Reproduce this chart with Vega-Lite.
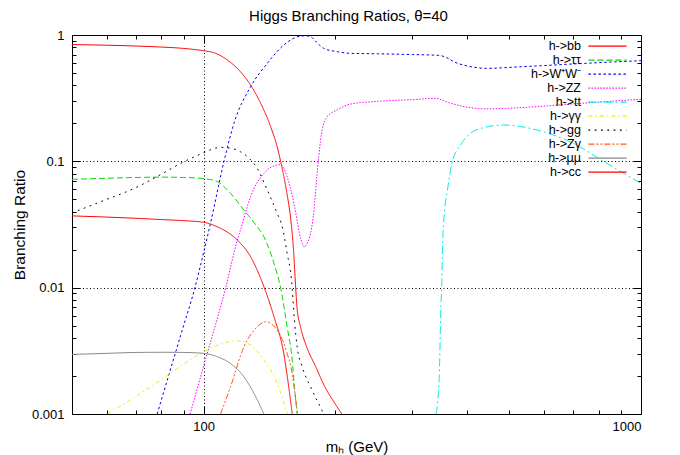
{
  "$schema": "https://vega.github.io/schema/vega-lite/v6.json",
  "width": 569,
  "height": 379,
  "autosize": {"type": "none"},
  "padding": {"left": 72, "top": 35, "right": 39, "bottom": 41},
  "background": "white",
  "title": {"text": "Higgs Branching Ratios, θ=40", "fontSize": 15, "font": "Liberation Sans", "fontWeight": "normal", "anchor": "middle", "dx": -8, "offset": 5, "color": "black"},
  "config": {
    "view": {"stroke": "black", "strokeWidth": 1},
    "font": "Liberation Sans",
    "axis": {"labelFont": "Liberation Sans", "titleFont": "Liberation Sans", "labelColor": "black", "titleColor": "black", "tickColor": "black", "domain": false, "titleFontWeight": "normal"},
    "legend": {"orient": "none", "legendX": 528.5, "legendY": 4.2, "title": null, "symbolType": "M-3.15,0H3.15", "symbolSize": 147, "symbolStrokeWidth": 1.2, "labelAlign": "right", "labelOffset": -33.5, "labelFontSize": 12.5, "labelFont": "Liberation Sans", "labelColor": "black", "padding": 0, "labelLimit": 0}
  },
  "data": {"values": [
    {"d": "h->bb", "m": 50, "br": 0.84}, {"d": "h->bb", "m": 60, "br": 0.83}, {"d": "h->bb", "m": 70, "br": 0.818}, {"d": "h->bb", "m": 80, "br": 0.803}, {"d": "h->bb", "m": 90, "br": 0.783}, {"d": "h->bb", "m": 100, "br": 0.75}, {"d": "h->bb", "m": 105.6, "br": 0.724}, {"d": "h->bb", "m": 113.3, "br": 0.634}, {"d": "h->bb", "m": 121.4, "br": 0.512}, {"d": "h->bb", "m": 128, "br": 0.402}, {"d": "h->bb", "m": 135, "br": 0.288}, {"d": "h->bb", "m": 142.3, "br": 0.188}, {"d": "h->bb", "m": 147.3, "br": 0.13}, {"d": "h->bb", "m": 150, "br": 0.0996}, {"d": "h->bb", "m": 155, "br": 0.056}, {"d": "h->bb", "m": 158, "br": 0.036}, {"d": "h->bb", "m": 160.5, "br": 0.02}, {"d": "h->bb", "m": 162.2, "br": 0.0105}, {"d": "h->bb", "m": 163.6, "br": 0.0068}, {"d": "h->bb", "m": 166.5, "br": 0.0049}, {"d": "h->bb", "m": 172, "br": 0.0034}, {"d": "h->bb", "m": 180.4, "br": 0.00237}, {"d": "h->bb", "m": 189.3, "br": 0.00164}, {"d": "h->bb", "m": 197, "br": 0.0013}, {"d": "h->bb", "m": 207, "br": 0.001},
    {"d": "h->ττ", "m": 50, "br": 0.072}, {"d": "h->ττ", "m": 60, "br": 0.0735}, {"d": "h->ττ", "m": 70, "br": 0.0745}, {"d": "h->ττ", "m": 80, "br": 0.075}, {"d": "h->ττ", "m": 90, "br": 0.0745}, {"d": "h->ττ", "m": 100, "br": 0.073}, {"d": "h->ττ", "m": 107.5, "br": 0.069}, {"d": "h->ττ", "m": 115.2, "br": 0.0558}, {"d": "h->ττ", "m": 123.6, "br": 0.0411}, {"d": "h->ττ", "m": 132, "br": 0.031}, {"d": "h->ττ", "m": 137.3, "br": 0.0253}, {"d": "h->ττ", "m": 144.8, "br": 0.0156}, {"d": "h->ττ", "m": 150, "br": 0.0099}, {"d": "h->ττ", "m": 155.2, "br": 0.0049}, {"d": "h->ττ", "m": 159.4, "br": 0.00267}, {"d": "h->ττ", "m": 161.3, "br": 0.00164}, {"d": "h->ττ", "m": 163.6, "br": 0.001},
    {"d": "h->W⁺W⁻", "m": 78.3, "br": 0.001}, {"d": "h->W⁺W⁻", "m": 88.6, "br": 0.0042}, {"d": "h->W⁺W⁻", "m": 95.5, "br": 0.01}, {"d": "h->W⁺W⁻", "m": 100, "br": 0.019}, {"d": "h->W⁺W⁻", "m": 103.8, "br": 0.033}, {"d": "h->W⁺W⁻", "m": 111.3, "br": 0.1}, {"d": "h->W⁺W⁻", "m": 117.3, "br": 0.2}, {"d": "h->W⁺W⁻", "m": 128, "br": 0.389}, {"d": "h->W⁺W⁻", "m": 139.8, "br": 0.597}, {"d": "h->W⁺W⁻", "m": 152.5, "br": 0.834}, {"d": "h->W⁺W⁻", "m": 158, "br": 0.913}, {"d": "h->W⁺W⁻", "m": 166.5, "br": 0.98}, {"d": "h->W⁺W⁻", "m": 171, "br": 0.985}, {"d": "h->W⁺W⁻", "m": 175.6, "br": 0.97}, {"d": "h->W⁺W⁻", "m": 181, "br": 0.88}, {"d": "h->W⁺W⁻", "m": 188, "br": 0.785}, {"d": "h->W⁺W⁻", "m": 201.9, "br": 0.738}, {"d": "h->W⁺W⁻", "m": 216.7, "br": 0.716}, {"d": "h->W⁺W⁻", "m": 250, "br": 0.71}, {"d": "h->W⁺W⁻", "m": 300, "br": 0.70}, {"d": "h->W⁺W⁻", "m": 345, "br": 0.69}, {"d": "h->W⁺W⁻", "m": 360, "br": 0.66}, {"d": "h->W⁺W⁻", "m": 373, "br": 0.615}, {"d": "h->W⁺W⁻", "m": 400, "br": 0.57}, {"d": "h->W⁺W⁻", "m": 443.6, "br": 0.545}, {"d": "h->W⁺W⁻", "m": 529, "br": 0.56}, {"d": "h->W⁺W⁻", "m": 700, "br": 0.59}, {"d": "h->W⁺W⁻", "m": 850, "br": 0.61}, {"d": "h->W⁺W⁻", "m": 1000, "br": 0.626},
    {"d": "h->ZZ", "m": 93.1, "br": 0.001}, {"d": "h->ZZ", "m": 100, "br": 0.0024}, {"d": "h->ZZ", "m": 112.3, "br": 0.01}, {"d": "h->ZZ", "m": 119.4, "br": 0.0238}, {"d": "h->ZZ", "m": 121.4, "br": 0.0286}, {"d": "h->ZZ", "m": 128, "br": 0.0525}, {"d": "h->ZZ", "m": 137.3, "br": 0.0803}, {"d": "h->ZZ", "m": 147.3, "br": 0.0935}, {"d": "h->ZZ", "m": 150, "br": 0.094}, {"d": "h->ZZ", "m": 155.2, "br": 0.0755}, {"d": "h->ZZ", "m": 160.8, "br": 0.0465}, {"d": "h->ZZ", "m": 163.6, "br": 0.034}, {"d": "h->ZZ", "m": 165.5, "br": 0.027}, {"d": "h->ZZ", "m": 168, "br": 0.0225}, {"d": "h->ZZ", "m": 170, "br": 0.021}, {"d": "h->ZZ", "m": 172.5, "br": 0.0225}, {"d": "h->ZZ", "m": 175.6, "br": 0.027}, {"d": "h->ZZ", "m": 178, "br": 0.036}, {"d": "h->ZZ", "m": 181.2, "br": 0.071}, {"d": "h->ZZ", "m": 183.3, "br": 0.109}, {"d": "h->ZZ", "m": 186.6, "br": 0.177}, {"d": "h->ZZ", "m": 191.6, "br": 0.225}, {"d": "h->ZZ", "m": 201.9, "br": 0.255}, {"d": "h->ZZ", "m": 216.7, "br": 0.284}, {"d": "h->ZZ", "m": 245, "br": 0.297}, {"d": "h->ZZ", "m": 300, "br": 0.308}, {"d": "h->ZZ", "m": 341.4, "br": 0.315}, {"d": "h->ZZ", "m": 355, "br": 0.30}, {"d": "h->ZZ", "m": 373, "br": 0.284}, {"d": "h->ZZ", "m": 443.6, "br": 0.26}, {"d": "h->ZZ", "m": 548, "br": 0.268}, {"d": "h->ZZ", "m": 700, "br": 0.285}, {"d": "h->ZZ", "m": 1000, "br": 0.31},
    {"d": "h->tt", "m": 340, "br": 0.001}, {"d": "h->tt", "m": 345.7, "br": 0.002}, {"d": "h->tt", "m": 348.6, "br": 0.0067}, {"d": "h->tt", "m": 350, "br": 0.01}, {"d": "h->tt", "m": 352, "br": 0.0224}, {"d": "h->tt", "m": 355.6, "br": 0.0411}, {"d": "h->tt", "m": 361, "br": 0.0593}, {"d": "h->tt", "m": 369.5, "br": 0.0964}, {"d": "h->tt", "m": 389, "br": 0.139}, {"d": "h->tt", "m": 420, "br": 0.177}, {"d": "h->tt", "m": 485, "br": 0.194}, {"d": "h->tt", "m": 578, "br": 0.177}, {"d": "h->tt", "m": 700, "br": 0.139}, {"d": "h->tt", "m": 835, "br": 0.0964}, {"d": "h->tt", "m": 1000, "br": 0.067},
    {"d": "h->γγ", "m": 60.3, "br": 0.001}, {"d": "h->γγ", "m": 75.7, "br": 0.00164}, {"d": "h->γγ", "m": 100, "br": 0.0031}, {"d": "h->γγ", "m": 110, "br": 0.0036}, {"d": "h->γγ", "m": 117.3, "br": 0.00378}, {"d": "h->γγ", "m": 120.4, "br": 0.00378}, {"d": "h->γγ", "m": 128, "br": 0.00351}, {"d": "h->γγ", "m": 137.3, "br": 0.00267}, {"d": "h->γγ", "m": 147.3, "br": 0.00175}, {"d": "h->γγ", "m": 155.2, "br": 0.001},
    {"d": "h->gg", "m": 50, "br": 0.039}, {"d": "h->gg", "m": 58.2, "br": 0.048}, {"d": "h->gg", "m": 69.3, "br": 0.061}, {"d": "h->gg", "m": 80, "br": 0.079}, {"d": "h->gg", "m": 88.6, "br": 0.0964}, {"d": "h->gg", "m": 100, "br": 0.117}, {"d": "h->gg", "m": 104, "br": 0.124}, {"d": "h->gg", "m": 109.3, "br": 0.129}, {"d": "h->gg", "m": 115.2, "br": 0.127}, {"d": "h->gg", "m": 121.4, "br": 0.119}, {"d": "h->gg", "m": 126.9, "br": 0.106}, {"d": "h->gg", "m": 132.6, "br": 0.088}, {"d": "h->gg", "m": 139.8, "br": 0.0593}, {"d": "h->gg", "m": 147.3, "br": 0.0387}, {"d": "h->gg", "m": 151.3, "br": 0.0303}, {"d": "h->gg", "m": 155.2, "br": 0.0187}, {"d": "h->gg", "m": 158.8, "br": 0.0115}, {"d": "h->gg", "m": 161.3, "br": 0.0055}, {"d": "h->gg", "m": 163.6, "br": 0.0034}, {"d": "h->gg", "m": 168, "br": 0.00237}, {"d": "h->gg", "m": 176.9, "br": 0.00155}, {"d": "h->gg", "m": 186.6, "br": 0.00106}, {"d": "h->gg", "m": 188, "br": 0.001},
    {"d": "h->Zγ", "m": 109.3, "br": 0.001}, {"d": "h->Zγ", "m": 115.2, "br": 0.00164}, {"d": "h->Zγ", "m": 123.6, "br": 0.0034}, {"d": "h->Zγ", "m": 132.6, "br": 0.0049}, {"d": "h->Zγ", "m": 138.5, "br": 0.00537}, {"d": "h->Zγ", "m": 147.3, "br": 0.00462}, {"d": "h->Zγ", "m": 155.2, "br": 0.00302}, {"d": "h->Zγ", "m": 159.4, "br": 0.00209}, {"d": "h->Zγ", "m": 162.2, "br": 0.00134}, {"d": "h->Zγ", "m": 164, "br": 0.001},
    {"d": "h->μμ", "m": 50, "br": 0.00296}, {"d": "h->μμ", "m": 60, "br": 0.00302}, {"d": "h->μμ", "m": 70, "br": 0.00307}, {"d": "h->μμ", "m": 80, "br": 0.00308}, {"d": "h->μμ", "m": 90, "br": 0.00307}, {"d": "h->μμ", "m": 100, "br": 0.00302}, {"d": "h->μμ", "m": 107.5, "br": 0.00284}, {"d": "h->μμ", "m": 115.2, "br": 0.00251}, {"d": "h->μμ", "m": 123.6, "br": 0.00197}, {"d": "h->μμ", "m": 130.3, "br": 0.00146}, {"d": "h->μμ", "m": 137.3, "br": 0.001},
    {"d": "h->cc", "m": 50, "br": 0.037}, {"d": "h->cc", "m": 60, "br": 0.0362}, {"d": "h->cc", "m": 70, "br": 0.0354}, {"d": "h->cc", "m": 80, "br": 0.0346}, {"d": "h->cc", "m": 90, "br": 0.0339}, {"d": "h->cc", "m": 100, "br": 0.0329}, {"d": "h->cc", "m": 107.5, "br": 0.0303}, {"d": "h->cc", "m": 119.4, "br": 0.0238}, {"d": "h->cc", "m": 128, "br": 0.0176}, {"d": "h->cc", "m": 137.3, "br": 0.0102}, {"d": "h->cc", "m": 144.8, "br": 0.0059}, {"d": "h->cc", "m": 152.5, "br": 0.0030}, {"d": "h->cc", "m": 156.5, "br": 0.00164}, {"d": "h->cc", "m": 159.4, "br": 0.001}
  ]},
  "layer": [
    {
      "mark": {"type": "line", "clip": true, "strokeWidth": 1, "interpolate": "monotone"},
      "encoding": {
        "x": {"field": "m", "type": "quantitative", "scale": {"type": "log", "domain": [50, 1000]},
          "axis": {"title": "mₕ (GeV)", "titleFontSize": 15, "titlePadding": 6, "labelFontSize": 13,
            "values": [60, 70, 80, 90, 100, 200, 300, 400, 500, 600, 700, 800, 900, 1000],
            "labelExpr": "datum.value == 100 ? '100' : datum.value == 1000 ? '1000' : ''",
            "tickSize": {"condition": {"test": "datum.value == 100 || datum.value == 1000", "value": -8}, "value": -4},
            "labelPadding": 14,
            "grid": true, "gridColor": "black", "gridDash": [1, 2.5],
            "gridOpacity": {"condition": {"test": "datum.value == 100", "value": 1}, "value": 0}}},
        "y": {"field": "br", "type": "quantitative", "scale": {"type": "log", "domain": [0.001, 1]},
          "axis": {"title": "Branching Ratio", "titleFontSize": 15.5, "titlePadding": 4, "labelFontSize": 13,
            "values": [0.001, 0.002, 0.003, 0.004, 0.005, 0.006, 0.007, 0.008, 0.009, 0.01, 0.02, 0.03, 0.04, 0.05, 0.06, 0.07, 0.08, 0.09, 0.1, 0.2, 0.3, 0.4, 0.5, 0.6, 0.7, 0.8, 0.9, 1],
            "labelExpr": "datum.value == 1 ? '1' : datum.value == 0.1 ? '0.1' : datum.value == 0.01 ? '0.01' : datum.value == 0.001 ? '0.001' : ''",
            "tickSize": {"condition": {"test": "datum.value == 1 || datum.value == 0.1 || datum.value == 0.01 || datum.value == 0.001", "value": -8}, "value": -4},
            "labelPadding": 16,
            "grid": true, "gridColor": "black", "gridDash": [1, 2.5],
            "gridOpacity": {"condition": {"test": "datum.value == 0.1 || datum.value == 0.01", "value": 1}, "value": 0}}},
        "color": {"field": "d", "type": "nominal",
          "scale": {"domain": ["h->bb", "h->ττ", "h->W⁺W⁻", "h->ZZ", "h->tt", "h->γγ", "h->gg", "h->Zγ", "h->μμ", "h->cc"],
            "range": ["#ff0000", "#00dd00", "#0000ff", "#ff00ff", "#00eeee", "#eeee00", "#000000", "#ff5a1a", "#888888", "#ff0000"]},
          "legend": {"rowPadding": -0.87}},
        "strokeDash": {"field": "d", "type": "nominal",
          "scale": {"domain": ["h->bb", "h->ττ", "h->W⁺W⁻", "h->ZZ", "h->tt", "h->γγ", "h->gg", "h->Zγ", "h->μμ", "h->cc"],
            "range": [[1, 0], [6, 3], [2.5, 2.5], [1.5, 1.5], [8, 3, 2, 3], [4, 3, 1.5, 3], [1.8, 4.5], [6, 2, 2, 2, 2, 2], [1, 0], [1, 0]]},
          "legend": {"rowPadding": -0.87}}
      }
    },
    {
      "mark": {"type": "line", "clip": true, "opacity": 0},
      "encoding": {
        "x": {"field": "m", "type": "quantitative", "scale": {"type": "log", "domain": [50, 1000]},
          "axis": {"orient": "top", "title": null, "labels": false, "grid": false,
            "values": [60, 70, 80, 90, 100, 200, 300, 400, 500, 600, 700, 800, 900, 1000],
            "tickSize": {"condition": {"test": "datum.value == 100 || datum.value == 1000", "value": -8}, "value": -4}}},
        "y": {"field": "br", "type": "quantitative", "scale": {"type": "log", "domain": [0.001, 1]},
          "axis": {"orient": "right", "title": null, "labels": false, "grid": false,
            "values": [0.001, 0.002, 0.003, 0.004, 0.005, 0.006, 0.007, 0.008, 0.009, 0.01, 0.02, 0.03, 0.04, 0.05, 0.06, 0.07, 0.08, 0.09, 0.1, 0.2, 0.3, 0.4, 0.5, 0.6, 0.7, 0.8, 0.9, 1],
            "tickSize": {"condition": {"test": "datum.value == 1 || datum.value == 0.1 || datum.value == 0.01 || datum.value == 0.001", "value": -8}, "value": -4}}},
        "detail": {"field": "d", "type": "nominal"}
      }
    }
  ],
  "resolve": {"axis": {"x": "independent", "y": "independent"}}
}
